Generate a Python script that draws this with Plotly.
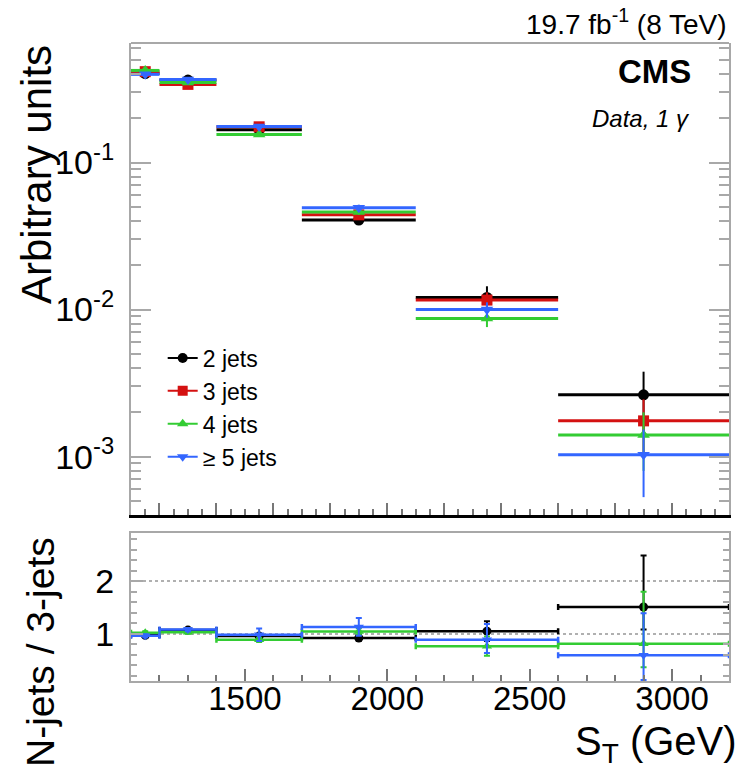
import plotly.graph_objects as go

# ---------------- data ----------------
bin_lo = [1100, 1200, 1400, 1700, 2100, 2600]
bin_hi = [1200, 1400, 1700, 2100, 2600, 3200]

series_names = ["2 jets", "3 jets", "4 jets", "\u2265 5 jets"]

# normalised S_T distributions (arbitrary units)
frac_2j = [0.403, 0.364, 0.167, 0.0406, 0.0121, 0.00263]
frac_3j = [0.415, 0.340, 0.175, 0.0441, 0.0116, 0.00175]
frac_4j = [0.423, 0.350, 0.155, 0.0461, 0.0087, 0.00140]
frac_5j = [0.398, 0.367, 0.176, 0.0492, 0.0100, 0.00103]

err_2j = [0.004, 0.004, 0.002, 0.0030, 0.0023, 0.00115]
err_3j = [0.004, 0.004, 0.002, 0.0020, 0.0015, 0.00070]
err_4j = [0.005, 0.005, 0.003, 0.0020, 0.0011, 0.00060]
err_5j = [0.006, 0.006, 0.004, 0.0025, 0.0012, 0.00050]

# ratio N-jets / 3-jets
ratio_2j = [0.97, 1.07, 0.955, 0.92, 1.05, 1.51]
ratio_4j = [1.02, 1.03, 0.885, 1.045, 0.76, 0.81]
ratio_5j = [0.96, 1.08, 0.98, 1.13, 0.885, 0.59]

ratio_2j_up = [0.03, 0.03, 0.04, 0.05, 0.19, 0.98]
ratio_2j_dn = [0.03, 0.03, 0.04, 0.05, 0.19, 0.43]
ratio_4j_up = [0.03, 0.03, 0.04, 0.06, 0.19, 0.99]
ratio_4j_dn = [0.03, 0.03, 0.04, 0.06, 0.18, 0.45]
ratio_5j_up = [0.03, 0.03, 0.12, 0.17, 0.30, 0.80]
ratio_5j_dn = [0.03, 0.03, 0.12, 0.17, 0.25, 0.47]

# ---------------- styles ----------------
FONT = "Liberation Sans, Arial, Helvetica, sans-serif"
BLACK = "#000000"
RED = "#d41111"
GREEN = "#33cc33"
BLUE = "#3366ff"
FRAME = "#a8a8a8"

centers = [(a + b) / 2 for a, b in zip(bin_lo, bin_hi)]
halfw = [(b - a) / 2 for a, b in zip(bin_lo, bin_hi)]

fig = go.Figure()

upper = [
    (series_names[0], frac_2j, err_2j, BLACK, "circle", 11),
    (series_names[1], frac_3j, err_3j, RED, "square", 11),
    (series_names[2], frac_4j, err_4j, GREEN, "triangle-up", 11),
    (series_names[3], frac_5j, err_5j, BLUE, "triangle-down", 11),
]
for name, vals, errs, col, sym, sz in upper:
    fig.add_trace(go.Scatter(
        x=centers, y=vals, mode="markers", name=name, showlegend=False,
        marker=dict(symbol=sym, color=col, size=sz, line=dict(width=0)),
        error_x=dict(type="data", array=halfw, color=col, thickness=3, width=0),
        error_y=dict(type="data", array=errs, color=col, thickness=2, width=0),
        xaxis="x", yaxis="y"))

# legend entries
for name, vals, errs, col, sym, sz in upper:
    fig.add_trace(go.Scatter(
        x=[None], y=[None], mode="lines+markers", name=name, showlegend=True,
        marker=dict(symbol=sym, color=col, size=10),
        line=dict(color=col, width=2),
        xaxis="x", yaxis="y"))

lower = [
    (ratio_2j, ratio_2j_up, ratio_2j_dn, BLACK, "circle"),
    (ratio_4j, ratio_4j_up, ratio_4j_dn, GREEN, "triangle-up"),
    (ratio_5j, ratio_5j_up, ratio_5j_dn, BLUE, "triangle-down"),
]
for vals, up, dn, col, sym in lower:
    fig.add_trace(go.Scatter(
        x=centers, y=vals, mode="markers", showlegend=False,
        marker=dict(symbol=sym, color=col, size=9, line=dict(width=0)),
        error_x=dict(type="data", array=halfw, color=col, thickness=2.5, width=3),
        error_y=dict(type="data", symmetric=False, array=up, arrayminus=dn,
                     color=col, thickness=2, width=3),
        xaxis="x2", yaxis="y2"))

# ---------------- axes ----------------
upper_major_x = list(range(1200, 3201, 200))
minor_log = [m * 10.0 ** e for e in (-4, -3, -2, -1) for m in range(2, 10)]

fig.update_layout(
    width=743, height=771, autosize=False,
    margin=dict(l=131, r=14, t=43, b=90),
    paper_bgcolor="white", plot_bgcolor="white",
    font=dict(family=FONT, color="black"),
    xaxis=dict(
        domain=[0, 1], anchor="y", range=[1100, 3200],
        showline=True, linecolor="black", linewidth=2.5,
        ticks="inside", tickmode="array", tickvals=upper_major_x,
        ticklen=12, tickwidth=1.5, tickcolor="#777777",
        showticklabels=False, showgrid=False, zeroline=False,
        minor=dict(tickmode="linear", tick0=1100, dtick=50, ticklen=6,
                   tickwidth=1.5, tickcolor="#777777", ticks="inside", showgrid=False),
    ),
    yaxis=dict(
        domain=[0.260, 1], anchor="x", type="log", range=[-3.398, -0.187],
        showline=True, linecolor=FRAME, linewidth=2, mirror="ticks",
        ticks="inside", tickmode="array",
        tickvals=[1e-3, 1e-2, 1e-1],
        ticktext=["10<sup>-3</sup>", "10<sup>-2</sup>", "10<sup>-1</sup>"],
        ticklen=20, tickwidth=1.5, tickcolor=FRAME,
        tickfont=dict(size=34, family=FONT), ticklabelstandoff=8,
        showgrid=False, zeroline=False,
        minor=dict(tickmode="array", tickvals=minor_log, ticklen=10,
                   tickwidth=1.5, tickcolor=FRAME, ticks="inside", showgrid=False),
    ),
    xaxis2=dict(
        domain=[0, 1], anchor="y2", range=[1100, 3200],
        showline=True, linecolor=FRAME, linewidth=2, mirror=True,
        ticks="inside", tickmode="array", tickvals=[1500, 2000, 2500, 3000],
        ticklen=12, tickwidth=1.5, tickcolor="#777777",
        tickfont=dict(size=33, family=FONT), ticklabelstandoff=-13,
        showgrid=False, zeroline=False,
        minor=dict(tickmode="linear", tick0=1100, dtick=100, ticklen=6,
                   tickwidth=1.5, tickcolor="#777777", ticks="inside", showgrid=False),
    ),
    yaxis2=dict(
        domain=[0, 0.232], anchor="x2", range=[0.1, 2.92],
        showline=True, linecolor=FRAME, linewidth=2, mirror="ticks",
        ticks="inside", tickmode="array", tickvals=[1, 2],
        ticklen=12, tickwidth=1.5, tickcolor=FRAME,
        tickfont=dict(size=34, family=FONT), ticklabelstandoff=8,
        showgrid=True, gridcolor="#b0b0b0", griddash="dot", gridwidth=2,
        zeroline=False,
        minor=dict(tickmode="linear", tick0=0, dtick=0.2, ticklen=6,
                   tickwidth=1.5, tickcolor=FRAME, ticks="inside", showgrid=False),
    ),
    legend=dict(
        x=0.053, y=0.540, xanchor="left", yanchor="top",
        bgcolor="rgba(0,0,0,0)", borderwidth=0,
        font=dict(size=23, family=FONT), tracegroupgap=0,
    ),
)

# top frame line of upper panel (gray)
fig.add_shape(type="line", xref="x domain", yref="y domain",
              x0=0, x1=1, y0=1, y1=1, line=dict(color=FRAME, width=2))

# ---------------- texts ----------------
fig.add_annotation(text="19.7 fb<sup>-1</sup> (8 TeV)", xref="paper", yref="paper",
                   x=1.0, y=1.0, xanchor="right", yanchor="bottom", yshift=1,
                   showarrow=False, font=dict(size=28, family=FONT))
fig.add_annotation(text="<b>CMS</b>", xref="paper", yref="paper",
                   x=0.94, y=0.956, xanchor="right", yanchor="middle",
                   showarrow=False, font=dict(size=33, family=FONT))
fig.add_annotation(text="<i>Data, 1 \u03b3</i>", xref="paper", yref="paper",
                   x=0.938, y=0.882, xanchor="right", yanchor="middle",
                   showarrow=False, font=dict(size=24, family=FONT))
fig.add_annotation(text="Arbitrary units", xref="paper", yref="paper",
                   x=(37 - 131) / 598, y=(681 - 175) / 638,
                   xanchor="center", yanchor="middle", textangle=-90,
                   showarrow=False, font=dict(size=42, family=FONT))
fig.add_annotation(text="N-jets / 3-jets", xref="paper", yref="paper",
                   x=(40 - 131) / 598, y=(681 - 652) / 638,
                   xanchor="center", yanchor="middle", textangle=-90,
                   showarrow=False, font=dict(size=39, family=FONT))
fig.add_annotation(text="S<sub>T</sub> (GeV)", xref="paper", yref="paper",
                   x=(739 - 131) / 598, y=(681 - 744) / 638,
                   xanchor="right", yanchor="middle",
                   showarrow=False, font=dict(size=40, family=FONT))

fig.write_html("out.html", config={"displayModeBar": False},
               post_script="document.body.style.margin='0px';document.body.style.overflow='hidden';")
